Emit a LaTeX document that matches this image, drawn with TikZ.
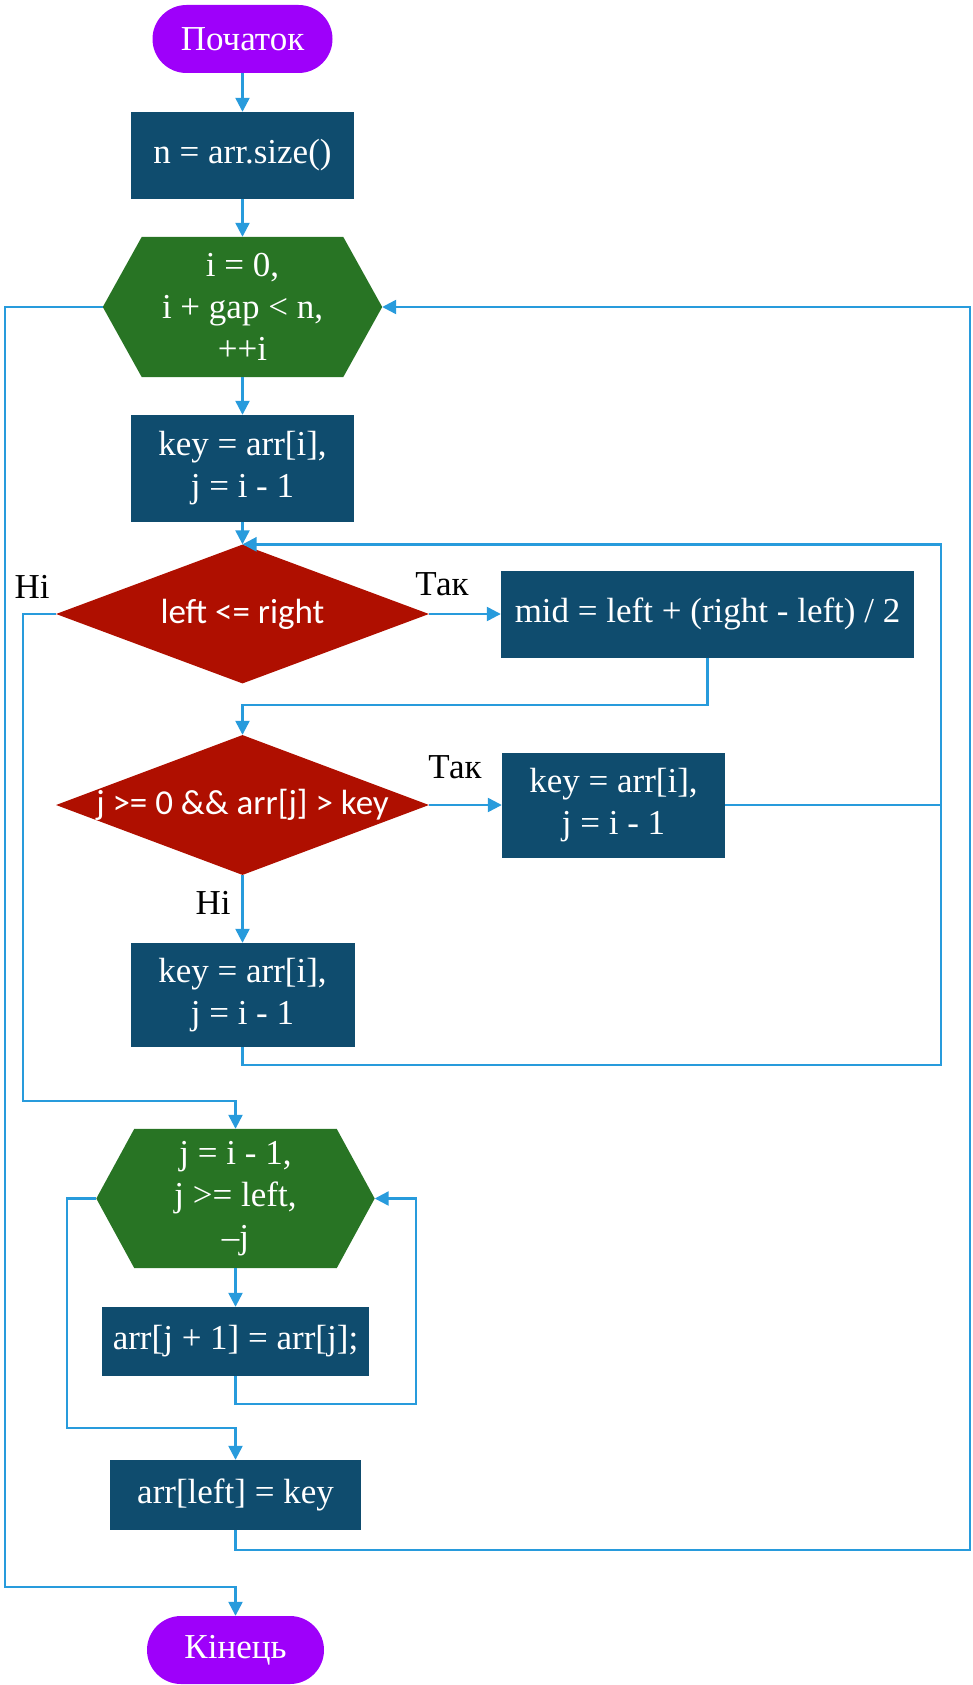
\documentclass[tikz,border=0pt]{standalone}
\usepackage{fontspec}
\setmainfont{Liberation Serif}
\newfontfamily\decfont{Carlito}
\usetikzlibrary{arrows.meta,shapes.geometric,backgrounds}
\definecolor{termfill}{RGB}{158,0,250}
\definecolor{boxfill}{RGB}{15,76,110}
\definecolor{hexfill}{RGB}{40,116,36}
\definecolor{diafill}{RGB}{175,15,0}
\definecolor{linecol}{RGB}{40,155,220}
\begin{document}
\begin{tikzpicture}[x=1pt,y=-1pt,
  base/.style={inner sep=0pt, text=white, align=center, font=\fontsize{35}{42}\selectfont},
  term/.style={base, rectangle, rounded corners=34pt, fill=termfill, minimum height=68pt},
  proc/.style={base, rectangle, fill=boxfill},
  hexnode/.style={base, rectangle, minimum width=279pt, minimum height=140pt},
  dec/.style={base, diamond, fill=diafill, minimum width=373pt, minimum height=139pt,
              font=\decfont\fontsize{35}{42}\selectfont},
  flow/.style={draw=linecol, line width=2.4pt},
  arr/.style={flow, -{Triangle[length=14pt,width=14pt]}},
  lbl/.style={font=\fontsize{35}{42}\selectfont, text=black, inner sep=0pt}
]
\useasboundingbox (0,0) rectangle (973,1685);

% blocks
\node[term, minimum width=180pt] (start) at (242.5,39) {Початок};
\node[proc, minimum width=223pt, minimum height=87pt] (b1) at (242.5,155.5) {n = arr.size()};
\node[hexnode] (h1) at (242.5,307) {i = 0,\\ i + gap < n,\\ ++i};
\node[proc, minimum width=223pt, minimum height=107pt] (b2) at (242.5,468.5) {key = arr[i],\\ j = i - 1};
\node[dec] (d1) at (242.5,614) {\makebox[0pt]{left <= right}};
\node[proc, minimum width=413pt, minimum height=87pt] (mid) at (707.5,614) {mid = left + (right - left) / 2};
\node[dec, minimum height=140pt] (d2) at (242.5,805) {\makebox[0pt]{j >= 0 \&\& arr[j] > key}};
\node[proc, minimum width=223pt, minimum height=105pt] (b3) at (613.5,805) {key = arr[i],\\ j = i - 1};
\node[proc, minimum width=224pt, minimum height=104pt] (b4) at (242.5,995) {key = arr[i],\\ j = i - 1};
\node[hexnode, minimum width=278pt, minimum height=139pt] (h2) at (235.5,1198.5) {j = i - 1,\\ j >= left,\\ –j};
\node[proc, minimum width=267pt, minimum height=69pt] (b5) at (235.5,1341.5) {arr[j + 1] = arr[j];};
\node[proc, minimum width=251pt, minimum height=70pt] (b6) at (235.5,1495) {arr[left] = key};
\node[term, minimum width=177pt] (end) at (235.5,1650) {Кінець};

% hexagon outlines behind the loop headers
\begin{scope}[on background layer]
  \foreach \h/\d in {h1/39pt, h2/38pt}
    \fill[hexfill] (\h.west) -- ([xshift=\d]\h.north west) -- ([xshift=-\d]\h.north east)
      -- (\h.east) -- ([xshift=-\d]\h.south east) -- ([xshift=\d]\h.south west) -- cycle;
\end{scope}

% labels
\node[lbl] (no1) at (32,587) {Ні};
\node[lbl] (yes1) at (442,584) {Так};
\node[lbl] (yes2) at (455,767) {Так};
\node[lbl] (no2) at (213,903) {Ні};

% helper corners
\coordinate (loopR) at (941,1065);
\coordinate (loopL) at (23,1101);
\coordinate (innerR) at (416,1404);
\coordinate (innerL) at (67,1428);
\coordinate (outerR) at (970,1550);
\coordinate (outerL) at (5,1587);

% connectors
\draw[arr] (start) -- (b1);
\draw[arr] (b1) -- (h1);
\draw[arr] (h1) -- (b2);
\draw[arr] (b2) -- (d1);
\draw[arr] (d1.east) -- (mid.west);
\draw[arr] (mid.south) -- ++(0,47) -| (d2.north);
\draw[arr] (d2.east) -- (b3.west);
\draw[flow] (b3.east) -- (b3.east -| loopR);
\draw[arr] (b4.south) |- (loopR) |- (d1.north);
\draw[arr] (d2.south) -- (b4.north);
\draw[arr] (d1.west) -| (loopL) -| (h2.north);
\draw[arr] (h2.south) -- (b5.north);
\draw[arr] (b5.south) |- (innerR) |- (h2.east);
\draw[arr] (h2.west) -| (innerL) -| (b6.north);
\draw[arr] (b6.south) |- (outerR) |- (h1.east);
\draw[arr] (h1.west) -| (outerL) -| (end.north);
\end{tikzpicture}
\end{document}
